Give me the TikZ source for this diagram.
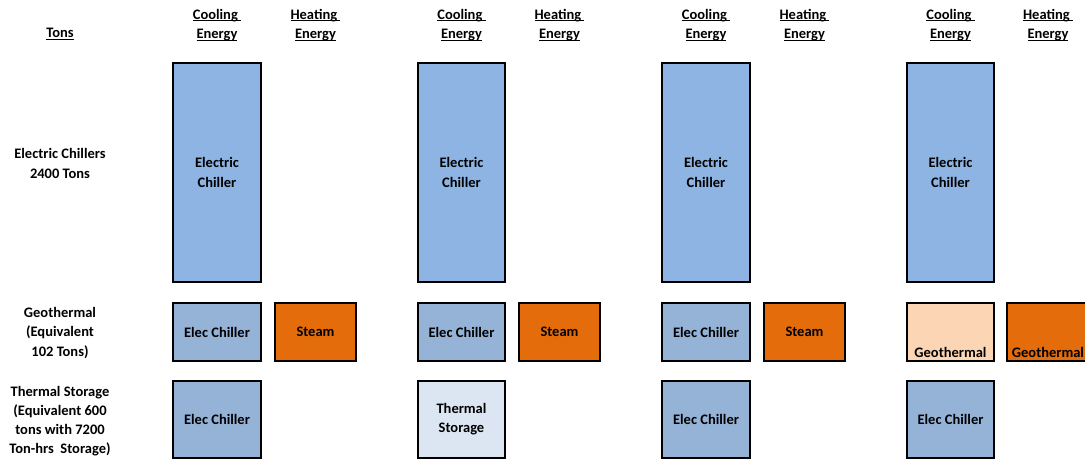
\documentclass[tikz,border=0pt]{standalone}
\usepackage{fontspec}
\setmainfont{Carlito}
\usetikzlibrary{positioning}

\definecolor{chillblue}{HTML}{8EB4E3}
\definecolor{elecblue}{HTML}{95B3D7}
\definecolor{steamorange}{HTML}{E46C0A}
\definecolor{geopeach}{HTML}{FCD5B5}
\definecolor{storepale}{HTML}{DCE6F2}

\newcommand{\ulhead}[1]{\setbox0\hbox{#1}\rlap{\rule[-2pt]{\wd0}{0.9pt}}\box0}

\tikzset{
  every node/.style={font=\bfseries\fontsize{14.5}{19.2}\selectfont, align=center},
  unitbox/.style={draw, line width=1.9pt, inner sep=0pt},
  tallbox/.style={unitbox, fill=chillblue, minimum width=88pt, minimum height=219pt},
  midbox/.style={unitbox, minimum width=88pt, minimum height=58pt},
  lowbox/.style={unitbox, minimum width=88pt, minimum height=77pt},
}

\begin{document}
\begin{tikzpicture}[x=1pt, y=-1pt]
    \useasboundingbox (0,0) rectangle (1085,462);

    % headers
    \node (tons) at (60,34) {\ulhead{Tons}};
    \node (cool1) at (217,25) {\ulhead{Cooling\ }\\\ulhead{Energy}};
    \node (heat1) at (315.5,25) {\ulhead{Heating\ }\\\ulhead{Energy}};
    \node (cool2) at (461.5,25) {\ulhead{Cooling\ }\\\ulhead{Energy}};
    \node (heat2) at (559.5,25) {\ulhead{Heating\ }\\\ulhead{Energy}};
    \node (cool3) at (706,25) {\ulhead{Cooling\ }\\\ulhead{Energy}};
    \node (heat3) at (804.5,25) {\ulhead{Heating\ }\\\ulhead{Energy}};
    \node (cool4) at (950.5,25) {\ulhead{Cooling\ }\\\ulhead{Energy}};
    \node (heat4) at (1048,25) {\ulhead{Heating\ }\\\ulhead{Energy}};

    % row labels
    \node (elecrow) at (60,163.5) {Electric Chillers\\2400 Tons};
    \node (georow) at (60,333) {Geothermal\\(Equivalent\\102 Tons)};
    \node (storerow) at (60,421) {Thermal Storage\\(Equivalent 600\\tons with 7200\\Ton-hrs\ \ Storage)};

    % electric chillers
    \node[tallbox] (ec1) at (217,172.5) {Electric\\Chiller};
    \node[tallbox, minimum width=87pt] (ec2) at (461.5,172.5) {Electric\\Chiller};
    \node[tallbox] (ec3) at (706,172.5) {Electric\\Chiller};
    \node[tallbox, minimum width=87pt] (ec4) at (950.5,172.5) {Electric\\Chiller};

    % geothermal
    \node[midbox, fill=elecblue] (gc1) at (217,332) {Elec Chiller};
    \node[midbox, fill=steamorange, minimum width=81pt] (gh1) at (315.5,332) {Steam};
    \node[midbox, fill=elecblue, minimum width=87pt] (gc2) at (461.5,332) {Elec Chiller};
    \node[midbox, fill=steamorange, minimum width=81pt] (gh2) at (559.5,332) {Steam};
    \node[midbox, fill=elecblue] (gc3) at (706,332) {Elec Chiller};
    \node[midbox, fill=steamorange, minimum width=81pt] (gh3) at (804.5,332) {Steam};
    \node[midbox, fill=geopeach, minimum width=87pt] (gc4) at (950.5,332) {};
    \node[midbox, fill=steamorange, minimum width=82pt] (gh4) at (1048,332) {};
    \node[above=1pt of gc4.south] (gc4t) {Geothermal};
    \node[above=1pt of gh4.south] (gh4t) {Geothermal};

    % thermal storage
    \node[lowbox, fill=elecblue] (sc1) at (217,419.5) {Elec Chiller};
    \node[lowbox, fill=storepale, minimum width=87pt] (sc2) at (461.5,419.5) {Thermal\\Storage};
    \node[lowbox, fill=elecblue] (sc3) at (706,419.5) {Elec Chiller};
    \node[lowbox, fill=elecblue, minimum width=87pt] (sc4) at (950.5,419.5) {Elec Chiller};
  \end{tikzpicture}
\end{document}
